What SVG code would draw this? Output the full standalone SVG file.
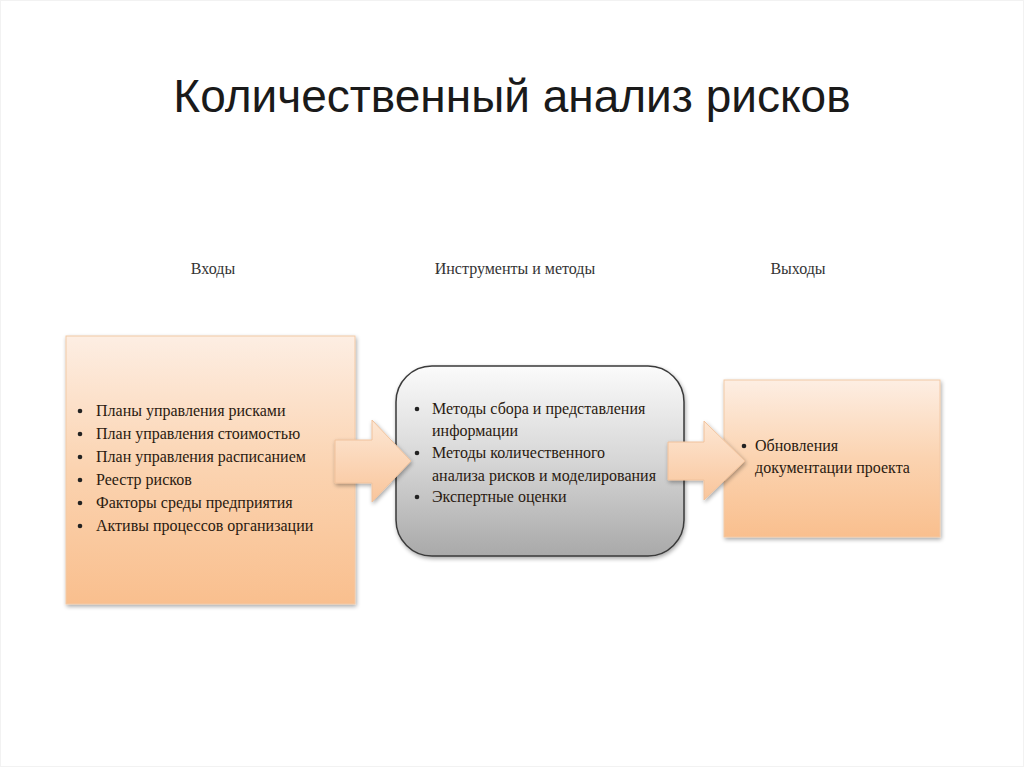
<svg xmlns="http://www.w3.org/2000/svg" width="1024" height="767" viewBox="0 0 1024 767">
<defs>
<linearGradient id="peach" x1="0" y1="0" x2="0" y2="1">
<stop offset="0" stop-color="#fdeee3"/>
<stop offset="0.5" stop-color="#fbd3b0"/>
<stop offset="1" stop-color="#f9bf8e"/>
</linearGradient>
<linearGradient id="gray" x1="0" y1="0" x2="0" y2="1">
<stop offset="0" stop-color="#fbfbfb"/>
<stop offset="0.5" stop-color="#d6d6d6"/>
<stop offset="1" stop-color="#a9a9a9"/>
</linearGradient>
<linearGradient id="arr" x1="0" y1="0" x2="0" y2="1">
<stop offset="0" stop-color="#fde7d4"/>
<stop offset="1" stop-color="#f9c59b"/>
</linearGradient>
<filter id="sh" x="-10%" y="-10%" width="125%" height="125%">
<feGaussianBlur in="SourceAlpha" stdDeviation="2"/>
<feOffset dx="1" dy="2"/>
<feComponentTransfer><feFuncA type="linear" slope="0.35"/></feComponentTransfer>
<feMerge><feMergeNode/><feMergeNode in="SourceGraphic"/></feMerge>
</filter>
</defs>
<style>
.title{font-family:"Liberation Sans",Arial,sans-serif;font-size:46px;fill:#1a1a1a}
.hdr{font-family:"Liberation Serif","Times New Roman",serif;font-size:16px;fill:#333}
.t{font-family:"Liberation Serif","Times New Roman",serif;font-size:16px;fill:#2a1a10}
.box{fill:url(#peach);stroke:#f2c9a6;stroke-width:1}
.arrow{fill:url(#arr);stroke:#f0c29c;stroke-width:1}
</style>
<rect x="0" y="0" width="1024" height="767" fill="#ffffff"/>
<rect x="0.5" y="0.5" width="1023" height="766" fill="none" stroke="#f2f2f2"/>
<text class="title" x="512" y="112" text-anchor="middle">Количественный анализ рисков</text>
<text class="hdr" x="213" y="274" text-anchor="middle">Входы</text>
<text class="hdr" x="515" y="274" text-anchor="middle">Инструменты и методы</text>
<text class="hdr" x="798" y="274" text-anchor="middle">Выходы</text>

<g id="inputs">
<rect class="box" x="66" y="336" width="289" height="268" filter="url(#sh)"/>
<g class="t">
<circle cx="80" cy="411" r="2.3" fill="#222"/><text x="96" y="416">Планы управления рисками</text>
<circle cx="80" cy="434" r="2.3" fill="#222"/><text x="96" y="439">План управления стоимостью</text>
<circle cx="80" cy="457" r="2.3" fill="#222"/><text x="96" y="462">План управления расписанием</text>
<circle cx="80" cy="480" r="2.3" fill="#222"/><text x="96" y="485">Реестр рисков</text>
<circle cx="80" cy="503" r="2.3" fill="#222"/><text x="96" y="508">Факторы среды предприятия</text>
<circle cx="80" cy="526" r="2.3" fill="#222"/><text x="96" y="531">Активы процессов организации</text>
</g>
</g>

<g id="tools">
<rect x="396" y="366" width="288" height="190" rx="36" ry="36" fill="url(#gray)" stroke="#3a3a3a" stroke-width="1.5" filter="url(#sh)"/>
<g class="t">
<circle cx="417" cy="409" r="2.3" fill="#222"/><text x="432" y="414">Методы сбора и представления</text>
<text x="432" y="436">информации</text>
<circle cx="417" cy="453" r="2.3" fill="#222"/><text x="432" y="458">Методы количественного</text>
<text x="432" y="481">анализа рисков и моделирования</text>
<circle cx="417" cy="497" r="2.3" fill="#222"/><text x="432" y="502">Экспертные оценки</text>
</g>
</g>

<g id="outputs">
<rect class="box" x="724" y="380" width="216" height="157" filter="url(#sh)"/>
<g class="t">
<circle cx="744" cy="446" r="2.3" fill="#222"/><text x="755" y="451">Обновления</text>
<text x="755" y="473">документации проекта</text>
</g>
</g>

<g id="connectors">
<path class="arrow" d="M335,440 L372,440 L372,420 L411,461 L372,502 L372,483 L335,483 Z" filter="url(#sh)"/>
<path class="arrow" d="M668,442 L704,442 L704,421 L745,461 L704,500 L704,480 L668,480 Z" filter="url(#sh)"/>
</g>
</svg>
